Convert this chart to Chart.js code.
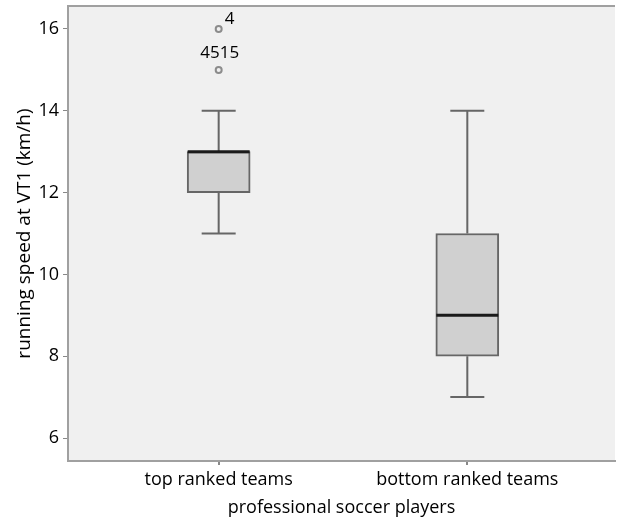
<!DOCTYPE html>
<html>
<head>
<meta charset="utf-8">
<script src="https://cdn.jsdelivr.net/npm/chart.js@4"></script>
<style>
  html, body { margin: 0; padding: 0; background: #fff; }
  #wrap { width: 621px; height: 522px; }
</style>
</head>
<body>
<div id="wrap"><canvas id="c" width="621" height="522"></canvas></div>
<script>
// groups on the x axis
const categories = ['top ranked teams', 'bottom ranked teams'];
// five-number summaries
const mins = [11, 7];
const q1s = [12, 8];
const medians = [13, 9];
const q3s = [13, 11];
const maxs = [14, 14];
// outliers (value + case labels)
const outlierGroup = [1, 1];
const outlierValues = [16, 15];
const outlierLabels = [['4'], ['45', '15']];
const yTicks = [6, 8, 10, 12, 14, 16];

const FONT = "'Open Sans', sans-serif";
const noPad = () => ({ left: 0, top: 0, right: 0, bottom: 0 });

// fill plot area + top frame line
const plotFrame = {
  id: 'plotFrame',
  beforeDraw(chart) {
    const { ctx, chartArea: a } = chart;
    ctx.save();
    ctx.fillStyle = '#f0f0f0';
    ctx.fillRect(a.left, a.top, a.right - a.left, a.bottom - a.top);
    ctx.strokeStyle = '#a0a0a0';
    ctx.lineWidth = 2;
    ctx.beginPath();
    ctx.moveTo(a.left, a.top);
    ctx.lineTo(a.right, a.top);
    ctx.stroke();
    ctx.restore();
  }
};

// whiskers, caps, medians, outlier labels
const whiskers = {
  id: 'whiskers',
  beforeDatasetsDraw(chart) {
    const { ctx, scales: { x, y } } = chart;
    ctx.save();
    ctx.strokeStyle = '#666';
    ctx.lineWidth = 2;
    categories.forEach((c, i) => {
      const px = x.getPixelForValue(i + 1);
      ctx.beginPath();
      ctx.moveTo(px, y.getPixelForValue(q3s[i]));
      ctx.lineTo(px, y.getPixelForValue(maxs[i]));
      ctx.moveTo(px, y.getPixelForValue(q1s[i]));
      ctx.lineTo(px, y.getPixelForValue(mins[i]));
      ctx.moveTo(px - 17, y.getPixelForValue(maxs[i]));
      ctx.lineTo(px + 17, y.getPixelForValue(maxs[i]));
      ctx.moveTo(px - 17, y.getPixelForValue(mins[i]));
      ctx.lineTo(px + 17, y.getPixelForValue(mins[i]));
      ctx.stroke();
    });
    ctx.restore();
  },
  afterDatasetsDraw(chart) {
    const { ctx, scales: { x, y } } = chart;
    ctx.save();
    ctx.strokeStyle = '#1a1a1a';
    ctx.lineWidth = 3;
    categories.forEach((c, i) => {
      const px = x.getPixelForValue(i + 1);
      const py = y.getPixelForValue(medians[i]);
      ctx.beginPath();
      ctx.moveTo(px - 31, py);
      ctx.lineTo(px + 31, py);
      ctx.stroke();
    });
    ctx.fillStyle = '#000';
    ctx.font = '17px ' + FONT;
    ctx.textBaseline = 'middle';
    outlierValues.forEach((v, i) => {
      const px = x.getPixelForValue(outlierGroup[i]);
      const py = y.getPixelForValue(v);
      const txt = outlierLabels[i].join('');
      if (outlierLabels[i].length === 1) {
        ctx.textAlign = 'left';
        ctx.fillText(txt, px + 6, py - 10);
      } else {
        ctx.textAlign = 'center';
        ctx.fillText(txt, px + 1, py - 17);
      }
    });
    ctx.restore();
  }
};

new Chart(document.getElementById('c'), {
  type: 'bar',
  data: {
    datasets: [{
      type: 'bar',
      label: 'box',
      data: categories.map((c, i) => ({ x: i + 1, y: [q1s[i], q3s[i]] })),
      backgroundColor: '#d0d0d0',
      borderColor: '#666',
      borderWidth: 2,
      borderSkipped: false,
      barThickness: 63,
    }, {
      type: 'scatter',
      label: 'outliers',
      data: outlierValues.map((v, i) => ({ x: outlierGroup[i], y: v })),
      pointRadius: 3,
      pointBorderWidth: 2,
      pointBorderColor: '#8c8c8c',
      pointBackgroundColor: '#f0f0f0',
    }],
  },
  options: {
    responsive: false,
    animation: false,
    layout: { padding: { top: 6, right: 1 } },
    plugins: { legend: { display: false }, tooltip: { enabled: false } },
    scales: {
      x: {
        type: 'linear',
        offset: false,
        min: 0.394,
        max: 2.594,
        afterBuildTicks: (s) => { s.ticks = categories.map((c, i) => ({ value: i + 1 })); },
        afterFit: (s) => {
          s.height = 61;
          s.paddingLeft = s.paddingRight = s.paddingTop = s.paddingBottom = 0;
          s.getPadding = noPad;
        },
        ticks: {
          color: '#000',
          font: { family: FONT, size: 18 },
          padding: 4,
          maxRotation: 0,
          autoSkip: false,
          callback: (v) => categories[v - 1],
        },
        grid: { display: true, drawOnChartArea: false, offset: false, tickLength: 4, color: '#888', lineWidth: 2 },
        border: { display: true, color: '#a0a0a0', width: 2 },
        title: {
          display: true,
          text: 'professional soccer players',
          color: '#000',
          font: { family: FONT, size: 18 },
          padding: { top: 0, bottom: 3 },
        },
      },
      y: {
        min: 5.438,
        max: 16.562,
        afterBuildTicks: (s) => { s.ticks = yTicks.map((v) => ({ value: v })); },
        afterFit: (s) => {
          s.width = 68;
          s.paddingLeft = s.paddingRight = s.paddingTop = s.paddingBottom = 0;
          s.getPadding = noPad;
        },
        ticks: {
          color: '#000',
          font: { family: FONT, size: 18 },
          padding: 4,
        },
        grid: { display: true, drawOnChartArea: false, tickLength: 5, color: '#888', lineWidth: 1 },
        border: { display: true, color: '#a0a0a0', width: 2 },
        title: {
          display: true,
          text: 'running speed at VT1 (km/h)',
          color: '#000',
          font: { family: FONT, size: 19 },
          padding: { top: 13, bottom: 0 },
        },
      },
    },
  },
  plugins: [plotFrame, whiskers],
});
</script>
</body>
</html>
